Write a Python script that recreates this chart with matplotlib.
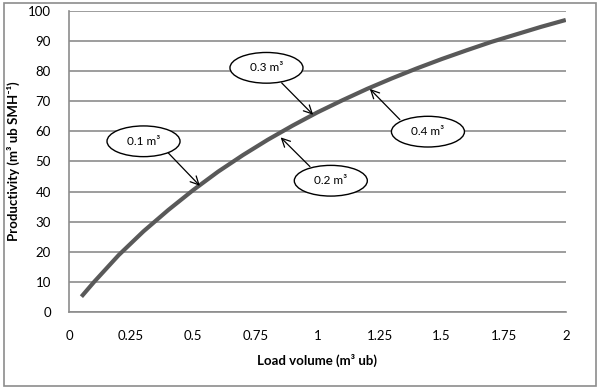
import numpy as np
import matplotlib
matplotlib.use("Agg")
import matplotlib.pyplot as plt
from matplotlib.patches import Ellipse, Rectangle

plt.rcParams['font.family'] = ['Lato', 'DejaVu Sans']

# -------------------------
# Data
# -------------------------
load_volume = [0.05, 0.1, 0.2, 0.3, 0.4, 0.5, 0.6, 0.7, 0.8, 0.9, 1.0,
               1.1, 1.2, 1.3, 1.4, 1.5, 1.6, 1.7, 1.8, 1.9, 2.0]
productivity = [5.1, 9.9, 18.9, 26.8, 33.9, 40.5, 46.6, 52.1, 57.2, 61.9, 66.3,
                70.3, 74.1, 77.6, 80.9, 84.0, 86.9, 89.7, 92.2, 94.7, 97.0]

# annotations: label, tip of arrow (on the curve)
labels = ['0.1 m³', '0.3 m³', '0.2 m³', '0.4 m³']
tip_x = [0.527, 0.983, 0.852, 1.211]
tip_y = [41.9, 65.5, 58.0, 74.1]

x_ticks = [0, 0.25, 0.5, 0.75, 1, 1.25, 1.5, 1.75, 2]
x_tick_labels = ['0', '0.25', '0.5', '0.75', '1', '1.25', '1.5', '1.75', '2']
y_ticks = np.arange(0, 101, 10)

# ellipse centres and arrow tails (layout only)
box_x = [0.300, 0.795, 1.054, 1.445]
box_y = [56.7, 81.1, 43.6, 59.9]
tail_x = [0.400, 0.856, 0.970, 1.332]
tail_y = [52.8, 76.1, 48.3, 63.9]

# -------------------------
# Figure
# -------------------------
fig = plt.figure(figsize=(6, 3.9), dpi=100)
ax = fig.add_axes([0.115, 0.2, 0.828, 0.772])

grid_col = '#8c8c8c'
ax.set_xlim(0, 2)
ax.set_ylim(0, 100)
ax.set_yticks(y_ticks)
ax.set_xticks(x_ticks)
ax.set_xticklabels(x_tick_labels)
ax.tick_params(length=0, labelsize=9.5, colors='black')
ax.tick_params(axis='y', pad=13)
ax.tick_params(axis='x', pad=13)
ax.grid(axis='y', color=grid_col, linewidth=1.2)
ax.set_axisbelow(True)
for s in ['top', 'right']:
    ax.spines[s].set_visible(False)
for s in ['left', 'bottom']:
    ax.spines[s].set_color(grid_col)
    ax.spines[s].set_linewidth(1.2)

ax.plot(load_volume, productivity, color='#595959', linewidth=3,
        solid_capstyle='butt', zorder=3)

for lab, bx, by, tx, ty, hx, hy in zip(labels, box_x, box_y, tail_x, tail_y, tip_x, tip_y):
    ax.annotate('', xy=(hx, hy), xytext=(tx, ty),
                arrowprops=dict(arrowstyle='->', color='black', lw=0.9,
                                shrinkA=0, shrinkB=0, mutation_scale=15),
                zorder=4)
    ax.add_patch(Ellipse((bx, by), 0.294, 10.2, facecolor='white',
                         edgecolor='black', linewidth=1, zorder=5))
    ax.text(bx, by, lab, ha='center', va='center', fontsize=8.5, zorder=6)

ax.set_xlabel('Load volume (m³ ub)', fontsize=9.5, fontweight='bold')
ax.set_ylabel('Productivity (m³ ub SMH⁻¹)', fontsize=9.5, fontweight='bold')
ax.xaxis.set_label_coords(0.5, -0.14)
ax.yaxis.set_label_coords(-0.098, 0.5)

fig.patches.append(Rectangle((0.006, 0.01), 0.988, 0.982, transform=fig.transFigure,
                             fill=False, edgecolor='#8c8c8c', linewidth=1.2))

fig.savefig('out.png', dpi=100)
